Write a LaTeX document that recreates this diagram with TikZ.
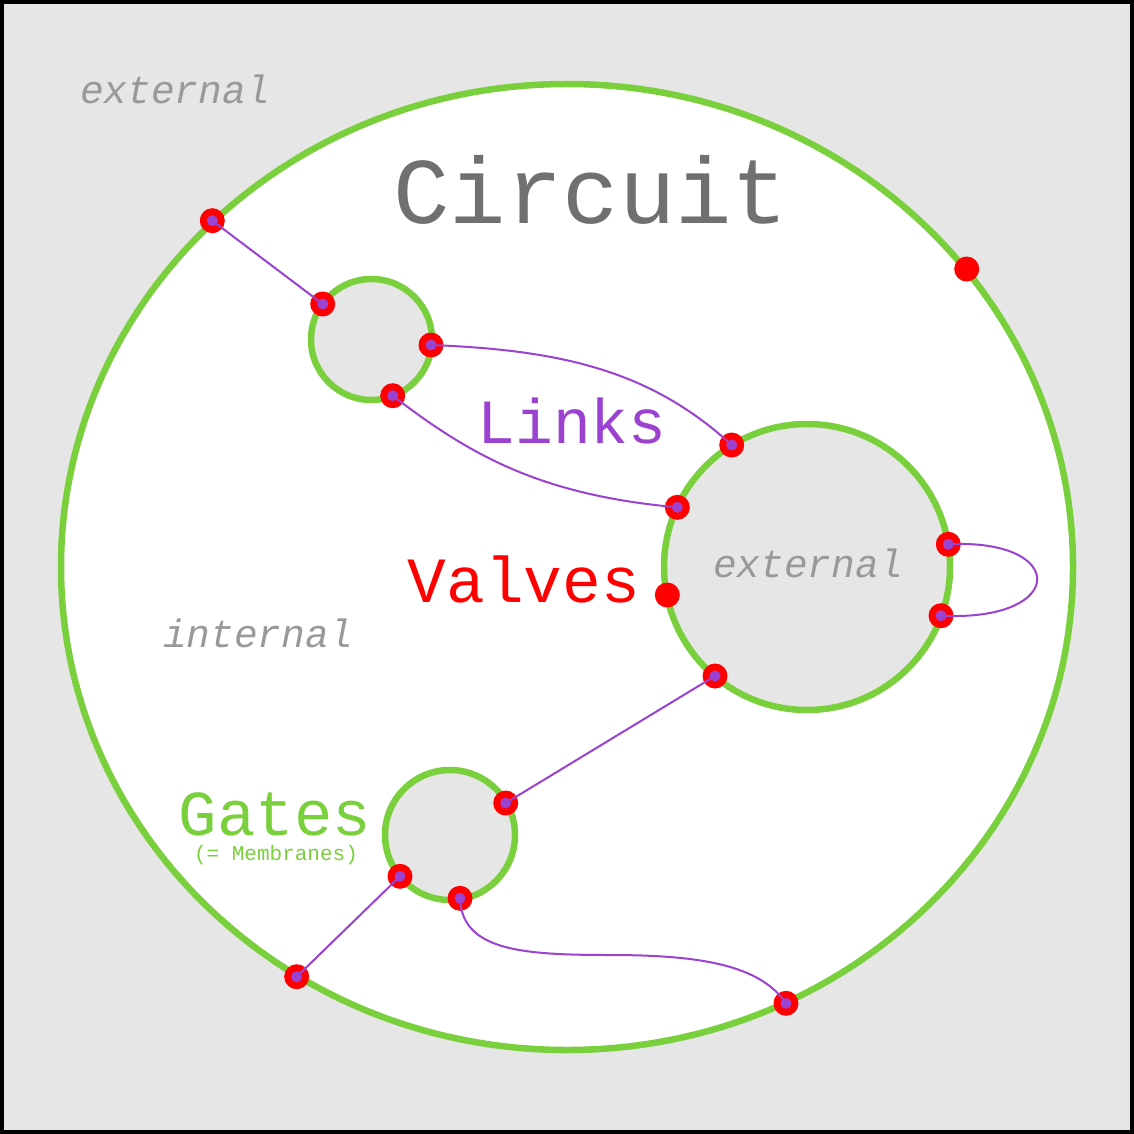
\documentclass[tikz,border=0pt]{standalone}
\usepackage{fontspec}
\newfontfamily\mono{Liberation Mono}
\usetikzlibrary{shapes.geometric}
\definecolor{bggray}{HTML}{E6E6E6}
\definecolor{memgreen}{HTML}{7AD03C}
\definecolor{linkpurple}{HTML}{9C42D0}
\definecolor{titlegray}{HTML}{707070}
\definecolor{notegray}{HTML}{999999}
\tikzset{
  membrane/.style={circle, draw=memgreen, line width=6.5pt, fill=bggray, inner sep=0pt},
  valve/.style={circle, fill=red, minimum size=25pt, inner sep=0pt},
  port/.style={circle, fill=linkpurple, minimum size=11pt, inner sep=0pt},
  link/.style={draw=linkpurple, line width=2pt},
  note/.style={text=notegray, font=\mono\itshape\fontsize{39.5}{39.5}\selectfont, anchor=base, inner sep=0pt},
}
\begin{document}
\begin{tikzpicture}[x=1pt,y=-1pt]
\useasboundingbox (0,0) rectangle (1134,1134);
\fill[bggray] (0,0) rectangle (1134,1134);
\draw[line width=4pt] (2,2) rectangle (1132,1132);
% outer membrane
\node[ellipse, draw=memgreen, line width=6.5pt, fill=white, minimum width=1012pt, minimum height=966pt, inner sep=0pt] (circuit) at (567,567) {};
% inner membranes
\node[membrane, minimum size=121pt] (m1) at (371.5,339.5) {};
\node[membrane, minimum size=286pt] (m2) at (807,567) {};
\node[membrane, minimum size=130pt] (m3) at (450,835) {};
% texts
\node[text=titlegray, font=\mono\fontsize{94}{94}\selectfont, anchor=base, inner sep=0pt] (title) at (591,223) {Circuit};
\node[text=linkpurple, font=\mono\fontsize{63}{63}\selectfont, anchor=base, inner sep=0pt] (linkslbl) at (572,443) {Links};
\node[text=red, font=\mono\fontsize{64.5}{64.5}\selectfont, anchor=base, inner sep=0pt] (valveslbl) at (524,602) {Valves};
\node[text=memgreen, font=\mono\fontsize{64}{64}\selectfont, anchor=base, inner sep=0pt] (gateslbl) at (275,835) {Gates};
\node[text=memgreen, font=\mono\fontsize{21}{21}\selectfont, anchor=base, inner sep=0pt] (gatesnote) at (276,860) {(= Membranes)};
\node[note] (ext1) at (175,104) {external};
\node[note] (ext2) at (808,577) {external};
\node[note] (intl) at (258,647) {internal};
% valves
\node[valve] (v1) at (212.3,220.7) {};
\node[valve] (v2) at (322.7,304) {};
\node[valve] (v3) at (431,345) {};
\node[valve] (v4) at (392.7,395.7) {};
\node[valve] (v5) at (731.7,445) {};
\node[valve] (v6) at (677.3,507.3) {};
\node[valve] (v7) at (667.3,595) {};
\node[valve] (v8) at (948.3,544.3) {};
\node[valve] (v9) at (941,615.7) {};
\node[valve] (v10) at (715,676) {};
\node[valve] (v11) at (505.7,803) {};
\node[valve] (v12) at (400,876.3) {};
\node[valve] (v13) at (460,898.3) {};
\node[valve] (v14) at (296.7,976.7) {};
\node[valve] (v15) at (786,1003.3) {};
\node[valve] (v16) at (966.7,269) {};
% links
\draw[link] (v1.center) -- (v2.center);
\draw[link] (v3.center) .. controls (560,350) and (650,370) .. (v5.center);
\draw[link] (v4.center) .. controls (470,455) and (540,495) .. (v6.center);
\draw[link] (v8.center) .. controls (1068,538) and (1068,622) .. (v9.center);
\draw[link] (v10.center) -- (v11.center);
\draw[link] (v12.center) -- (v14.center);
\coordinate (mid) at (610,955);
\draw[link] (v13.center) .. controls (462,950) and (520,955) .. (mid) .. controls (700,955) and (760,965) .. (v15.center);
% ports
\foreach \v in {v1,v2,v3,v4,v5,v6,v8,v9,v10,v11,v12,v13,v14,v15}
  \node[port] at (\v.center) {};
\end{tikzpicture}
\end{document}
